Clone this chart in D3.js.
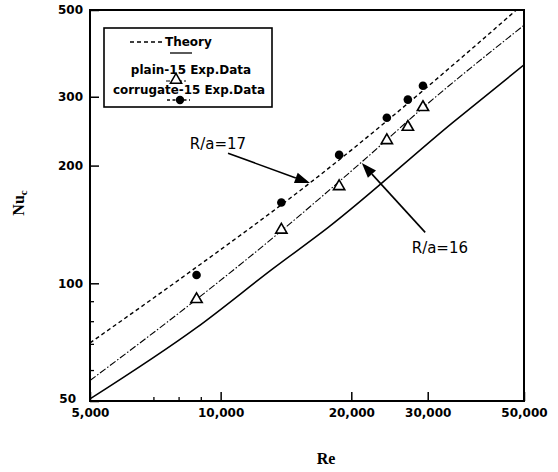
<!DOCTYPE html>
<html>
<head>
<meta charset="utf-8">
<script src="https://cdn.jsdelivr.net/npm/d3@7"></script>
<style>
  body { margin: 0; background: #fff; }
  svg { display: block; }
</style>
</head>
<body>
<svg id="chart"></svg>
<script>
const WIDTH = 558;
const HEIGHT = 472;
const margin = {top: 10, right: 34, bottom: 71, left: 90};

// theory curves
const theoryDashRe = [5000, 8700, 16000, 40000, 48000];
const theoryDashNu = [70.4, 109, 180, 419, 500];
const theoryDotRe = [5000, 8800, 14000, 21000, 30000, 50000];
const theoryDotNu = [56.4, 91, 138, 203, 288, 457];
const theorySolidRe = [5000, 8800, 13200, 17700, 34300, 50000];
const theorySolidNu = [50.6, 77, 109, 139, 258, 362];

// experimental points
const expRe = [8800, 13800, 18750, 24150, 27000, 29250];
const plainNu = [91, 137, 177, 232, 251, 282];
const corrugateNu = [105, 161, 213, 265, 295, 320];

// ticks
const xTickLabels = [5000, 10000, 20000, 30000, 50000];
const xMinor = [7000, 8000, 9000];
const yTickLabels = [50, 100, 200, 300, 500];
const yMinor = [60, 70, 80, 90];

// annotations: [text, textRe, textNu, fromRe, fromNu, tipRe, tipNu]
const notes = [
  ["R/a=17", 9860, 228, 10400, 215, 16060, 180.5],
  ["R/a=16", 32000, 123, 29600, 135, 21150, 203]
];

const w = WIDTH - margin.left - margin.right;
const h = HEIGHT - margin.top - margin.bottom;

const svg = d3.select("#chart").attr("width", WIDTH).attr("height", HEIGHT);
const g = svg.append("g").attr("transform", `translate(${margin.left},${margin.top})`);

const x = d3.scaleLog().domain([5000, 50000]).range([0, w]);
const y = d3.scaleLog().domain([50, 500]).range([h, 0]);

const tickFont = "bold 12px 'DejaVu Sans', sans-serif";

// x axis, ticks pointing in
const xAxis = g.append("g")
    .attr("transform", `translate(0,${h})`)
    .call(d3.axisBottom(x).tickValues(xTickLabels).tickSize(-9).tickPadding(7)
      .tickFormat(d3.format(",")));
xAxis.select(".domain").remove();
xAxis.selectAll("text").style("font", tickFont).attr("fill", "#000");
xAxis.selectAll("line").attr("stroke-width", 1.5);

g.append("g").attr("transform", `translate(0,${h})`)
    .call(d3.axisBottom(x).tickValues(xMinor).tickSize(-4).tickFormat(""))
    .call(a => a.select(".domain").remove())
    .selectAll("line").attr("stroke-width", 1.3);

const yAxis = g.append("g")
    .call(d3.axisLeft(y).tickValues(yTickLabels).tickSize(-9).tickPadding(7)
      .tickFormat(d3.format("d")));
yAxis.select(".domain").remove();
yAxis.selectAll("text").style("font", tickFont).attr("fill", "#000")
    .filter(d => d === 50).attr("dy", "0.1em").attr("x", -14);
yAxis.selectAll("line").attr("stroke-width", 1.5);

g.append("g")
    .call(d3.axisLeft(y).tickValues(yMinor).tickSize(-4).tickFormat(""))
    .call(a => a.select(".domain").remove())
    .selectAll("line").attr("stroke-width", 1.3);

// frame
g.append("rect")
    .attr("width", w).attr("height", h)
    .attr("fill", "none").attr("stroke", "#000").attr("stroke-width", 2);

g.append("clipPath").attr("id", "clip")
  .append("rect").attr("width", w).attr("height", h);

const line = d3.line()
    .x(d => x(d[0])).y(d => y(d[1]))
    .curve(d3.curveMonotoneX);

const curves = g.append("g").attr("clip-path", "url(#clip)");
curves.append("path")
    .attr("d", line(d3.zip(theoryDashRe, theoryDashNu)))
    .attr("fill", "none").attr("stroke", "#000").attr("stroke-width", 1.4)
    .attr("stroke-dasharray", "4,3");
curves.append("path")
    .attr("d", line(d3.zip(theoryDotRe, theoryDotNu)))
    .attr("fill", "none").attr("stroke", "#000").attr("stroke-width", 1.1)
    .attr("stroke-dasharray", "7,2,1.5,2");
curves.append("path")
    .attr("d", line(d3.zip(theorySolidRe, theorySolidNu)))
    .attr("fill", "none").attr("stroke", "#000").attr("stroke-width", 1.5);

const tri = d3.symbol().type(d3.symbolTriangle).size(55);

g.selectAll(".plain")
  .data(d3.zip(expRe, plainNu))
  .join("path")
    .attr("class", "plain")
    .attr("d", tri)
    .attr("transform", d => `translate(${x(d[0])},${y(d[1])})`)
    .attr("fill", "#fff").attr("stroke", "#000").attr("stroke-width", 1.6);

g.selectAll(".corr")
  .data(d3.zip(expRe, corrugateNu))
  .join("circle")
    .attr("class", "corr")
    .attr("cx", d => x(d[0])).attr("cy", d => y(d[1]))
    .attr("r", 4.3).attr("fill", "#000");

// arrows and labels
notes.forEach(n => {
  const [txt, tRe, tNu, fRe, fNu, pRe, pNu] = n;
  const x0 = x(fRe), y0 = y(fNu), x1 = x(pRe), y1 = y(pNu);
  const ang = Math.atan2(y1 - y0, x1 - x0);
  const len = 15, half = 5.5;
  const bx = x1 - len * Math.cos(ang), by = y1 - len * Math.sin(ang);
  g.append("line")
      .attr("x1", x0).attr("y1", y0).attr("x2", bx).attr("y2", by)
      .attr("stroke", "#000").attr("stroke-width", 1.6);
  g.append("path")
      .attr("d", `M${x1},${y1}L${bx - half * Math.sin(ang)},${by + half * Math.cos(ang)}` +
                 `L${bx + half * Math.sin(ang)},${by - half * Math.cos(ang)}Z`)
      .attr("fill", "#000");
  g.append("text")
      .attr("x", x(tRe)).attr("y", y(tNu))
      .attr("text-anchor", "middle").attr("dy", "0.35em")
      .style("font", "15px 'DejaVu Sans', sans-serif")
      .text(txt);
});

// legend
const lg = svg.append("g");
const legFont = "bold 12px 'DejaVu Sans', sans-serif";
lg.append("rect")
    .attr("x", 104).attr("y", 28).attr("width", 168).attr("height", 79)
    .attr("fill", "#fff").attr("stroke", "#000").attr("stroke-width", 1.6);
lg.append("line").attr("x1", 130).attr("x2", 164).attr("y1", 42).attr("y2", 42)
    .attr("stroke", "#000").attr("stroke-width", 1.4).attr("stroke-dasharray", "4,3");
lg.append("text").attr("x", 165).attr("y", 46).style("font", legFont).text("Theory");
lg.append("line").attr("x1", 170).attr("x2", 192).attr("y1", 53).attr("y2", 53)
    .attr("stroke", "#000").attr("stroke-width", 1.3);
lg.append("text").attr("x", 191).attr("y", 74).attr("text-anchor", "middle")
    .style("font", legFont).text("plain-15 Exp.Data");
lg.append("line").attr("x1", 166).attr("x2", 186).attr("y1", 81).attr("y2", 81)
    .attr("stroke", "#000").attr("stroke-width", 1.1).attr("stroke-dasharray", "4,2");
lg.append("path").attr("d", tri).attr("transform", "translate(176,80)")
    .attr("fill", "#fff").attr("stroke", "#000").attr("stroke-width", 1.5);
lg.append("text").attr("x", 189).attr("y", 94).attr("text-anchor", "middle")
    .attr("textLength", 152).attr("lengthAdjust", "spacingAndGlyphs")
    .style("font", legFont).text("corrugate-15 Exp.Data");
lg.append("line").attr("x1", 167).attr("x2", 190).attr("y1", 100).attr("y2", 100)
    .attr("stroke", "#000").attr("stroke-width", 1.3).attr("stroke-dasharray", "3,2.5");
lg.append("circle").attr("cx", 180).attr("cy", 100).attr("r", 4.2).attr("fill", "#000");

// axis titles
svg.append("text")
    .attr("x", 326).attr("y", 464)
    .attr("text-anchor", "middle")
    .style("font", "bold 16px 'Liberation Serif', 'DejaVu Serif', serif")
    .text("Re");

const yt = svg.append("text")
    .attr("transform", "translate(24,203) rotate(-90)")
    .attr("text-anchor", "middle")
    .style("font", "bold 16px 'Liberation Serif', 'DejaVu Serif', serif");
yt.append("tspan").text("Nu");
yt.append("tspan").attr("font-size", "11px").attr("dy", "3").text("c");
</script>
</body>
</html>
